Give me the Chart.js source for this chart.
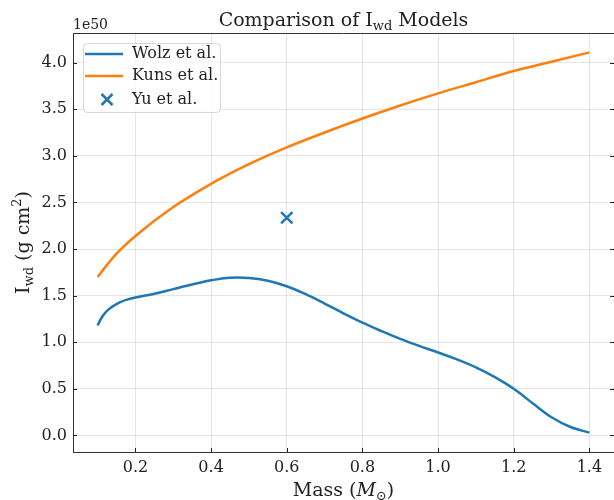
<!DOCTYPE html>
<html>
<head>
<meta charset="utf-8">
<script src="https://cdn.jsdelivr.net/npm/chart.js@4.4.0/dist/chart.umd.min.js"></script>
<style>
  html, body { margin: 0; padding: 0; background: #fff; }
</style>
</head>
<body>
<canvas id="chart" width="614" height="500"></canvas>
<script>
// moment of inertia curves, units of 1e50 g cm^2
const wolzMass   = [0.10, 0.11, 0.12, 0.13, 0.14, 0.16, 0.18, 0.20, 0.25, 0.30, 0.35, 0.40, 0.45, 0.50, 0.55, 0.60, 0.65,
                    0.70, 0.75, 0.80, 0.85, 0.90, 0.95, 1.00, 1.05, 1.10, 1.15, 1.20, 1.25, 1.30, 1.35, 1.40];
const wolzValues = [1.18, 1.26, 1.315, 1.355, 1.385, 1.43, 1.46, 1.48, 1.52, 1.57, 1.62, 1.665, 1.693, 1.69, 1.66, 1.60, 1.515,
                    1.415, 1.31, 1.21, 1.12, 1.035, 0.96, 0.89, 0.815, 0.73, 0.625, 0.50, 0.345, 0.195, 0.09, 0.03];

const kunsMass   = [0.10, 0.125, 0.15, 0.20, 0.30, 0.40, 0.50, 0.60, 0.70, 0.80, 0.90, 1.00, 1.10, 1.20, 1.30, 1.40];
const kunsValues = [1.70, 1.83, 1.95, 2.14, 2.45, 2.70, 2.91, 3.09, 3.25, 3.40, 3.54, 3.67, 3.79, 3.91, 4.01, 4.11];

const yuMass   = [0.6];
const yuValues = [2.335];

const xTicks = [0.2, 0.4, 0.6, 0.8, 1.0, 1.2, 1.4];
const yTicks = [0.0, 0.5, 1.0, 1.5, 2.0, 2.5, 3.0, 3.5, 4.0];

const SERIF = '"DejaVu Serif", serif';
const BLUE = '#1f77b4';
const ORANGE = '#ff7f0e';
const INK = '#222';

function pairs(xs, ys) {
  return xs.map((x, i) => ({ x: x, y: ys[i] }));
}

// parts: [text, sizeFactor, baselineShift, italic]
function richWidth(ctx, parts, size) {
  let w = 0;
  parts.forEach(p => {
    ctx.font = (p[3] ? 'italic ' : '') + Math.round(size * p[1]) + 'px ' + SERIF;
    w += ctx.measureText(p[0]).width;
  });
  return w;
}

function drawRich(ctx, parts, x, y, size) {
  let cx = x - richWidth(ctx, parts, size) / 2;
  parts.forEach(p => {
    ctx.font = (p[3] ? 'italic ' : '') + Math.round(size * p[1]) + 'px ' + SERIF;
    ctx.fillText(p[0], cx, y + p[2]);
    cx += ctx.measureText(p[0]).width;
  });
}

const frame = {
  id: 'frame',
  afterDraw(chart) {
    const ctx = chart.ctx;
    const a = chart.chartArea;
    const xs = chart.scales.x, ys = chart.scales.y;
    ctx.save();

    // top spine
    ctx.strokeStyle = '#333';
    ctx.lineWidth = 1;
    ctx.beginPath();
    ctx.moveTo(a.left, a.top + 0.5);
    ctx.lineTo(a.right, a.top + 0.5);
    ctx.stroke();

    // inward tick marks
    ctx.strokeStyle = INK;
    ctx.beginPath();
    yTicks.forEach(v => {
      const py = Math.round(ys.getPixelForValue(v)) + 0.5;
      ctx.moveTo(a.left, py); ctx.lineTo(a.left + 4, py);
      ctx.moveTo(a.right, py); ctx.lineTo(a.right - 4, py);
    });
    xTicks.forEach(v => {
      const px = Math.round(xs.getPixelForValue(v)) + 0.5;
      ctx.moveTo(px, a.bottom); ctx.lineTo(px, a.bottom - 4);
    });
    ctx.stroke();

    ctx.fillStyle = INK;
    ctx.textBaseline = 'alphabetic';
    ctx.textAlign = 'left';

    // title
    drawRich(ctx, [['Comparison of I', 1, 0], ['wd', 0.7, 4], [' Models', 1, 0]], (a.left + a.right) / 2, 26, 19);

    // offset text
    ctx.font = '14px ' + SERIF;
    ctx.fillText('1e50', a.left, 29);

    // axis titles
    drawRich(ctx, [['Mass (', 1, 0], ['M', 1, 0, true], ['\u2299', 0.7, 4], [')', 1, 0]], (a.left + a.right) / 2, 496, 19);

    ctx.save();
    ctx.translate(29, (a.top + a.bottom) / 2);
    ctx.rotate(-Math.PI / 2);
    drawRich(ctx, [['I', 1, 0], ['wd', 0.7, 4], [' (g cm', 1, 0], ['2', 0.7, -8], [')', 1, 0]], 0, 0, 19);
    ctx.restore();

    // legend
    const lx = 83, ly = 43, lw = 137, lh = 69;
    ctx.beginPath();
    ctx.roundRect(lx + 0.5, ly + 0.5, lw, lh, 4);
    ctx.fillStyle = 'rgba(255,255,255,0.8)';
    ctx.fill();
    ctx.strokeStyle = '#d6d6d6';
    ctx.lineWidth = 1;
    ctx.stroke();

    const rows = [54, 76, 99.5];
    ctx.lineWidth = 2.5;
    ctx.strokeStyle = BLUE;
    ctx.beginPath(); ctx.moveTo(85, rows[0]); ctx.lineTo(123, rows[0]); ctx.stroke();
    ctx.strokeStyle = ORANGE;
    ctx.beginPath(); ctx.moveTo(85, rows[1]); ctx.lineTo(123, rows[1]); ctx.stroke();
    ctx.strokeStyle = BLUE;
    const mx = 107, my = rows[2], d = 5.5;
    ctx.beginPath();
    ctx.moveTo(mx - d, my - d); ctx.lineTo(mx + d, my + d);
    ctx.moveTo(mx - d, my + d); ctx.lineTo(mx + d, my - d);
    ctx.stroke();

    ctx.fillStyle = INK;
    ctx.font = '16px ' + SERIF;
    ctx.textBaseline = 'middle';
    ['Wolz et al.', 'Kuns et al.', 'Yu et al.'].forEach((t, i) => ctx.fillText(t, 132, rows[i]));

    ctx.restore();
  }
};

const grid = { color: 'rgba(0,0,0,0.13)', lineWidth: 0.8, drawTicks: false };
const border = { display: true, color: '#333', width: 1 };

new Chart(document.getElementById('chart'), {
  type: 'line',
  data: {
    datasets: [
      {
        label: 'Wolz et al.',
        data: pairs(wolzMass, wolzValues),
        borderColor: BLUE,
        borderWidth: 2.5,
        pointRadius: 0,
        tension: 0.35,
        fill: false
      },
      {
        label: 'Kuns et al.',
        data: pairs(kunsMass, kunsValues),
        borderColor: ORANGE,
        borderWidth: 2.5,
        pointRadius: 0,
        cubicInterpolationMode: 'monotone',
        fill: false
      },
      {
        label: 'Yu et al.',
        data: pairs(yuMass, yuValues),
        showLine: false,
        pointStyle: 'crossRot',
        pointRadius: 8,
        borderColor: BLUE,
        borderWidth: 2.5
      }
    ]
  },
  options: {
    responsive: false,
    animation: false,
    layout: { autoPadding: false, padding: { top: 33, left: 0, right: 0, bottom: 0 } },
    plugins: {
      legend: { display: false },
      title: { display: false },
      tooltip: { enabled: false }
    },
    scales: {
      x: {
        type: 'linear',
        min: 0.035,
        max: 1.465,
        grid: grid,
        border: border,
        afterBuildTicks: s => { s.ticks = xTicks.map(v => ({ value: v })); },
        afterFit: s => { s.height = 48; s.paddingLeft = 0; s.paddingRight = 0; },
        ticks: {
          color: INK,
          padding: 6,
          maxRotation: 0,
          font: { family: SERIF, size: 16 },
          callback: v => Number(v).toFixed(1)
        }
      },
      y: {
        type: 'linear',
        min: -0.178,
        max: 4.318,
        grid: grid,
        border: border,
        afterBuildTicks: s => { s.ticks = yTicks.map(v => ({ value: v })); },
        afterFit: s => { s.width = 73; s.paddingTop = 0; s.paddingBottom = 0; },
        ticks: {
          color: INK,
          padding: 6,
          font: { family: SERIF, size: 16 },
          callback: v => Number(v).toFixed(1)
        }
      }
    }
  },
  plugins: [frame]
});
</script>
</body>
</html>
